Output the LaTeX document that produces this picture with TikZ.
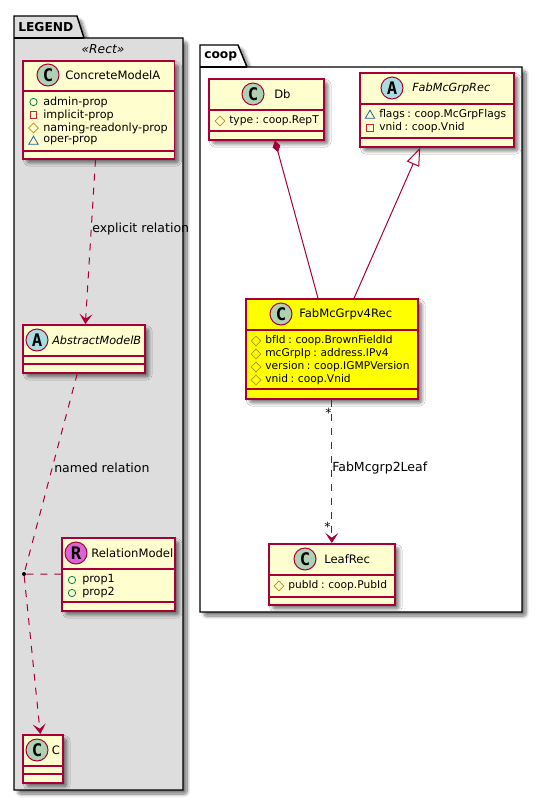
\documentclass[tikz,border=0pt]{standalone}
\usepackage{fontspec}
\setmainfont{DejaVu Sans}
\newfontfamily\spotfont{DejaVu Sans Mono}
\newfontfamily\tightfont[WordSpace=0.75]{DejaVu Sans}
\usepackage{tikz}
\usetikzlibrary{arrows.meta}
\usetikzlibrary{shadows.blur}
\usetikzlibrary{shapes}

\tikzset{
  softshadow/.style={blur shadow={shadow xshift=3pt,shadow yshift=-3pt,shadow blur steps=10,shadow blur radius=2.5pt,shadow blur extra rounding=2pt,shadow opacity=55}},
  classbox/.style={draw={rgb, 255:red, 168; green, 0; blue, 54 },fill={rgb, 255:red, 254; green, 254; blue, 206 },line width=1.25pt,inner sep=0pt,anchor=north west,softshadow},
  hotbox/.style={classbox,fill={rgb, 255:red, 255; green, 255; blue, 0 }},
  boxsize/.style 2 args={minimum width=#1*0.75pt,minimum height=#2*0.75pt},
  sepline/.style={draw={rgb, 255:red, 168; green, 0; blue, 54 },line width=1.1pt},
  spotc/.style={circle,draw={rgb, 255:red, 168; green, 0; blue, 54 },line width=0.75pt,inner sep=0pt,minimum size=16.5pt,fill={rgb, 255:red, 173; green, 209; blue, 178 },font=\spotfont\bfseries\fontsize{13}{14}\selectfont},
  spota/.style={spotc,fill={rgb, 255:red, 169; green, 220; blue, 223 }},
  spotr/.style={spotc,fill={rgb, 255:red, 218; green, 100; blue, 214 }},
  classname/.style={inner sep=0pt,anchor=west,font=\fontsize{8.7}{11}\selectfont},
  absname/.style={classname,font=\fontsize{8.45}{11}\selectfont\itshape},
  attrtext/.style={inner sep=0pt,anchor=west,font=\fontsize{8.4}{10}\selectfont},
  attrtype/.style={attrtext,font=\tightfont\fontsize{8}{10}\selectfont},
  linklabel/.style={inner sep=0pt,anchor=west,font=\fontsize{9.4}{11}\selectfont},
  pubicon/.style={circle,draw={rgb, 255:red, 3; green, 128; blue, 72 },line width=0.6pt,inner sep=0pt,minimum size=5.5pt},
  privicon/.style={rectangle,draw={rgb, 255:red, 200; green, 41; blue, 48 },line width=0.6pt,inner sep=0pt,minimum size=5pt},
  protoicon/.style={diamond,draw={rgb, 255:red, 179; green, 141; blue, 34 },line width=0.6pt,inner sep=0pt,minimum size=7.5pt},
  pkgicon/.style={regular polygon,regular polygon sides=3,draw={rgb, 255:red, 25; green, 99; blue, 160 },line width=0.6pt,inner sep=0pt,minimum size=8pt},
  dep/.style={draw={rgb, 255:red, 168; green, 0; blue, 54 },line width=0.75pt,dash pattern=on 5.25pt off 5.25pt,-{Stealth[length=7.5pt,width=9.75pt,inset=3.5pt]}},
  link/.style={draw={rgb, 255:red, 168; green, 0; blue, 54 },line width=0.75pt},
  pkgline/.style={draw=black,line width=1.1pt,softshadow}
}

\begin{document}
\begin{tikzpicture}[x=0.75pt,y=0.75pt,yscale=-1,xscale=1]
\useasboundingbox (0,0) rectangle (542,801);

%Package: LEGEND
\draw [pkgline,fill={rgb, 255:red, 221; green, 221; blue, 221 }] (14,38) -- (14,16) -- (77,16) -- (84,38) -- (183,38) -- (183,790) -- (14,790) -- cycle ;
\draw [draw=black,line width=1.1pt] (14,38) -- (84,38) ;
\node (legendname) [anchor=west,inner sep=0pt,font=\fontsize{9.2}{11}\selectfont\bfseries] at (18,27) {LEGEND};
\node (legendstereo) [inner sep=0pt,font=\fontsize{9.2}{11}\selectfont\itshape] at (103,49) {«Rect»};

%Package: coop
\draw [pkgline,fill=white] (200,67) -- (200,45) -- (238,45) -- (247,67) -- (522,67) -- (522,612) -- (200,612) -- cycle ;
\draw [draw=black,line width=1.1pt] (200,67) -- (247,67) ;
\node (coopname) [anchor=west,inner sep=0pt,font=\fontsize{9.2}{11}\selectfont\bfseries] at (204,56) {coop};

%Class: ConcreteModelA
\node (concrete) [classbox,boxsize={151.5}{98}] at (22,60) {};
\draw [sepline] (concrete.west |- 0,91) -- (concrete.east |- 0,91) ;
\draw [sepline] (concrete.west |- 0,151) -- (concrete.east |- 0,151) ;
\node (concretespot) [spotc] at (48,75) {C};
\node (concretename) [classname] at (65,75) {ConcreteModelA};
\node (concreteiconA) [pubicon] at (33.5,102) {};
\node (concreteattrA) [attrtext] at (43,102) {admin-prop};
\node (concreteiconB) [privicon] at (33.5,115) {};
\node (concreteattrB) [attrtext] at (43,115) {implicit-prop};
\node (concreteiconC) [protoicon] at (33.5,128) {};
\node (concreteattrC) [attrtext] at (43,128) {naming-readonly-prop};
\node (concreteiconD) [pkgicon] at (33.5,141.5) {};
\node (concreteattrD) [attrtext] at (43,141) {oper-prop};

%Class: AbstractModelB
\node (abstract) [classbox,boxsize={122}{48}] at (22,324) {};
\draw [sepline] (abstract.west |- 0,356) -- (abstract.east |- 0,356) ;
\draw [sepline] (abstract.west |- 0,364) -- (abstract.east |- 0,364) ;
\node (abstractspot) [spota] at (37,340) {A};
\node (abstractname) [absname] at (52,340) {AbstractModelB};

%Class: RelationModel
\node (relation) [classbox,boxsize={113}{73}] at (61,537) {};
\draw [sepline] (relation.west |- 0,569) -- (relation.east |- 0,569) ;
\draw [sepline] (relation.west |- 0,602) -- (relation.east |- 0,602) ;
\node (relationspot) [spotr] at (76,553) {R};
\node (relationname) [classname] at (91,553) {RelationModel};
\node (relationiconA) [pubicon] at (72,580) {};
\node (relationattrA) [attrtext] at (82,580) {prop1};
\node (relationiconB) [pubicon] at (72,593) {};
\node (relationattrB) [attrtext] at (82,593) {prop2};

%Class: C
\node (plainc) [classbox,boxsize={40}{48}] at (22,734) {};
\draw [sepline] (plainc.west |- 0,766) -- (plainc.east |- 0,766) ;
\draw [sepline] (plainc.west |- 0,774) -- (plainc.east |- 0,774) ;
\node (plaincspot) [spotc] at (37,750) {C};
\node (plaincname) [classname] at (51.5,750) {C};

%Class: Db
\node (db) [classbox,boxsize={115}{61}] at (208,78) {};
\draw [sepline] (db.west |- 0,110) -- (db.east |- 0,110) ;
\draw [sepline] (db.west |- 0,131) -- (db.east |- 0,131) ;
\node (dbspot) [spotc] at (253,94) {C};
\node (dbname) [classname] at (274,94) {Db};
\node (dbicon) [protoicon] at (220,121) {};
\node (dbattr) [attrtype] at (229,121) {type : coop.RepT};

%Class: FabMcGrpRec
\node (grprec) [classbox,boxsize={154}{74}] at (359,72) {};
\draw [sepline] (grprec.west |- 0,104) -- (grprec.east |- 0,104) ;
\draw [sepline] (grprec.west |- 0,138) -- (grprec.east |- 0,138) ;
\node (grprecspot) [spota] at (392,88) {A};
\node (grprecname) [absname] at (412,88) {FabMcGrpRec};
\node (grpreciconA) [pkgicon] at (370,115.5) {};
\node (grprecattrA) [attrtype] at (379,115) {flags : coop.McGrpFlags};
\node (grpreciconB) [privicon] at (370,128) {};
\node (grprecattrB) [attrtype] at (379,128) {vnid : coop.Vnid};

%Class: FabMcGrpv4Rec
\node (grpv4) [hotbox,boxsize={172}{100}] at (245,298) {};
\draw [sepline] (grpv4.west |- 0,330) -- (grpv4.east |- 0,330) ;
\draw [sepline] (grpv4.west |- 0,389) -- (grpv4.east |- 0,389) ;
\node (grpv4spot) [spotc] at (281,314) {C};
\node (grpv4name) [classname] at (299,314) {FabMcGrpv4Rec};
\node (grpv4iconA) [protoicon] at (256,341) {};
\node (grpv4attrA) [attrtype] at (265,341) {bfId : coop.BrownFieldId};
\node (grpv4iconB) [protoicon] at (256,354) {};
\node (grpv4attrB) [attrtype] at (265,354) {mcGrpIp : address.IPv4};
\node (grpv4iconC) [protoicon] at (256,367) {};
\node (grpv4attrC) [attrtype] at (265,367) {version : coop.IGMPVersion};
\node (grpv4iconD) [protoicon] at (256,380) {};
\node (grpv4attrD) [attrtype] at (265,380) {vnid : coop.Vnid};

%Class: LeafRec
\node (leaf) [classbox,boxsize={126}{61}] at (268,543) {};
\draw [sepline] (leaf.west |- 0,575) -- (leaf.east |- 0,575) ;
\draw [sepline] (leaf.west |- 0,597) -- (leaf.east |- 0,597) ;
\node (leafspot) [spotc] at (305,559) {C};
\node (leafname) [classname] at (324,559) {LeafRec};
\node (leaficon) [protoicon] at (279,586) {};
\node (leafattr) [attrtype] at (288,586) {pubId : coop.PubId};

%Relation point
\node (relpoint) [circle,fill=black,inner sep=0pt,minimum size=3pt] at (24,574) {};

%Connectors
\draw [dep] (concrete) -- (abstract) ;
\draw [dep,-] (abstract) -- (relpoint) ;
\draw [dep] (relpoint) -- (plainc) ;
\draw [dep,-] (relpoint) -- (relation) ;
\draw [link,{Diamond[length=9pt,width=6pt]}-] (db) -- (grpv4) ;
\draw [link,{Triangle[open,length=13.5pt,width=10pt]}-] (grprec) -- (grpv4) ;
\draw [dep] (grpv4) -- (leaf) ;

%Connector labels
\node (explicitlabel) [linklabel] at (92,229) {explicit relation};
\node (namedlabel) [linklabel] at (54,468) {named relation};
\node (leaflinklabel) [linklabel] at (332,468) {FabMcgrp2Leaf};
\node (leafstarA) [linklabel] at (325,413) {*};
\node (leafstarB) [linklabel] at (324,527) {*};

\end{tikzpicture}
\end{document}
